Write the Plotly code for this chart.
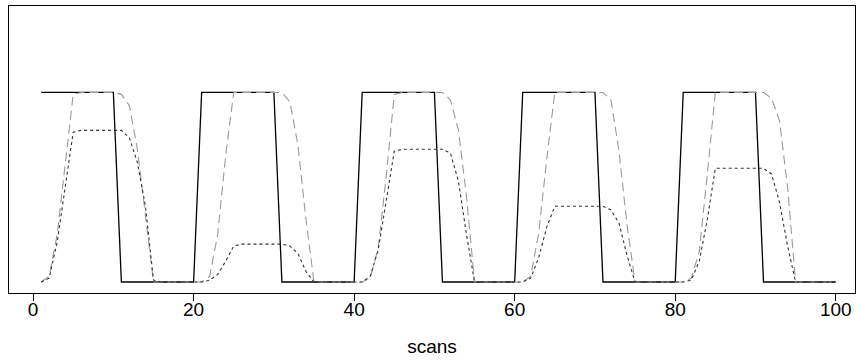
import plotly.graph_objects as go

scans = list(range(1, 101))

# solid: stimulus boxcar
boxcar = [
    1, 1, 1, 1, 1, 1, 1, 1, 1, 1, 0, 0, 0, 0, 0, 0, 0, 0, 0, 0,
    1, 1, 1, 1, 1, 1, 1, 1, 1, 1, 0, 0, 0, 0, 0, 0, 0, 0, 0, 0,
    1, 1, 1, 1, 1, 1, 1, 1, 1, 1, 0, 0, 0, 0, 0, 0, 0, 0, 0, 0,
    1, 1, 1, 1, 1, 1, 1, 1, 1, 1, 0, 0, 0, 0, 0, 0, 0, 0, 0, 0,
    1, 1, 1, 1, 1, 1, 1, 1, 1, 1, 0, 0, 0, 0, 0, 0, 0, 0, 0, 0,
]

# gray dashed: convolved response (normalised)
convolved = [
    0, 0.03, 0.25, 0.61, 0.99, 1, 1, 1, 1, 1, 0.99, 0.93, 0.70, 0.35, 0, 0, 0, 0, 0, 0,
    0, 0.03, 0.25, 0.67, 1, 1, 1, 1, 1, 1, 1, 0.95, 0.72, 0.33, 0, 0, 0, 0, 0, 0,
    0, 0.02, 0.18, 0.56, 0.99, 1, 1, 1, 1, 1, 1, 0.96, 0.80, 0.45, 0, 0, 0, 0, 0, 0,
    0, 0.03, 0.26, 0.65, 1, 1, 1, 1, 1, 1, 1, 0.96, 0.69, 0.30, 0, 0, 0, 0, 0, 0,
    0, 0.02, 0.16, 0.57, 1, 1, 1, 1, 1, 1, 1, 0.97, 0.85, 0.50, 0, 0, 0, 0, 0, 0,
]

# black dotted: response with varying block amplitudes
scaled = [
    0, 0.02, 0.21, 0.50, 0.79, 0.8, 0.8, 0.8, 0.8, 0.8, 0.8, 0.76, 0.63, 0.40, 0.01, 0, 0, 0, 0, 0,
    0, 0.01, 0.04, 0.11, 0.19, 0.2, 0.2, 0.2, 0.2, 0.2, 0.2, 0.19, 0.15, 0.055, 0, 0, 0, 0, 0, 0,
    0, 0.03, 0.17, 0.43, 0.69, 0.7, 0.7, 0.7, 0.7, 0.7, 0.7, 0.68, 0.53, 0.25, 0, 0, 0, 0, 0, 0,
    0, 0.02, 0.13, 0.29, 0.4, 0.4, 0.4, 0.4, 0.4, 0.4, 0.4, 0.38, 0.31, 0.14, 0, 0, 0, 0, 0, 0,
    0, 0.01, 0.11, 0.33, 0.6, 0.6, 0.6, 0.6, 0.6, 0.6, 0.6, 0.57, 0.42, 0.19, 0, 0, 0, 0, 0, 0,
]

xticks = [0, 20, 40, 60, 80, 100]

fig = go.Figure()
fig.add_trace(go.Scatter(x=scans, y=boxcar, mode="lines",
                         line=dict(color="black", width=1.3), showlegend=False))
fig.add_trace(go.Scatter(x=scans, y=convolved, mode="lines",
                         line=dict(color="#9a9a9a", width=1.1, dash="9px,5px"), showlegend=False))
fig.add_trace(go.Scatter(x=scans, y=scaled, mode="lines",
                         line=dict(color="#333333", width=1.1, dash="3px,3px"), showlegend=False))

font = "Liberation Sans, Arial, sans-serif"
fig.update_layout(
    width=861, height=362,
    margin=dict(l=9, r=6, t=6, b=69),
    paper_bgcolor="white", plot_bgcolor="white",
    font=dict(family=font, size=19, color="black"),
    xaxis=dict(range=[-3.0, 102.4], tickvals=xticks, ticktext=[str(t) for t in xticks],
               ticks="outside", ticklen=7, tickwidth=1, tickcolor="black",
               ticklabelstandoff=-8,
               showline=True, mirror=True, linecolor="black", linewidth=1,
               showgrid=False, zeroline=False, automargin=False,
               title=dict(text="scans", standoff=20, font=dict(size=19))),
    yaxis=dict(range=[-0.058, 1.456], showticklabels=False, ticks="",
               showline=True, mirror=True, linecolor="black", linewidth=1,
               showgrid=False, zeroline=False, automargin=False),
)

fig.write_html("out.html", config={"displayModeBar": False},
               post_script="document.body.style.margin='0';document.body.style.padding='0';")
